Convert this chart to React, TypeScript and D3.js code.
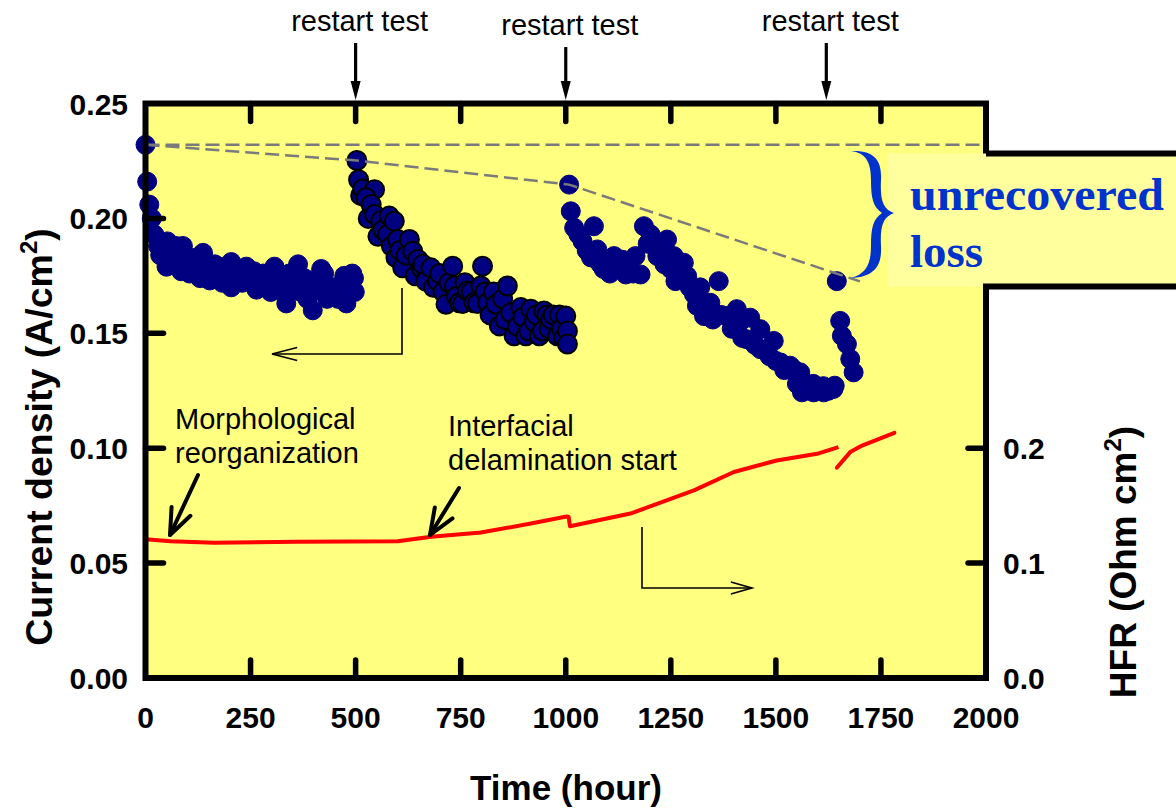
import React from "react";
import * as d3 from "d3";

// Current density (A/cm²) vs. time (hour), one array per operating segment
const segment1: [number, number][] = [
  [0, 0.232], [4, 0.216], [9, 0.206], [15, 0.2], [21, 0.193], [30, 0.188], [35, 0.184], [45, 0.186],
  [52, 0.19], [50, 0.179], [58, 0.185], [65, 0.183], [72, 0.188], [78, 0.181], [85, 0.177], [89, 0.188],
  [98, 0.182], [105, 0.176], [115, 0.178], [120, 0.183], [137, 0.185], [130, 0.174], [145, 0.178],
  [153, 0.173], [158, 0.176], [165, 0.18], [176, 0.179], [183, 0.172], [190, 0.175], [197, 0.178],
  [204, 0.181], [204, 0.17], [212, 0.174], [222, 0.176], [230, 0.172], [240, 0.179], [246, 0.175],
  [252, 0.172], [258, 0.177], [264, 0.169], [272, 0.171], [280, 0.176], [291, 0.173], [298, 0.168],
  [307, 0.179], [312, 0.17], [320, 0.174], [328, 0.168], [335, 0.163], [342, 0.176], [350, 0.172],
  [363, 0.18], [370, 0.168], [378, 0.174], [385, 0.165], [394, 0.173], [398, 0.16], [410, 0.169],
  [418, 0.178], [425, 0.176], [432, 0.165], [440, 0.17], [450, 0.17], [458, 0.165], [465, 0.171],
  [473, 0.175], [478, 0.163], [485, 0.168], [492, 0.176], [496, 0.174], [498, 0.168],
];

const segment2: [number, number][] = [
  [503, 0.2252], [507, 0.2168], [512, 0.21], [517, 0.2128], [545, 0.2125], [525, 0.209], [530, 0.2],
  [537, 0.206], [545, 0.2017], [553, 0.1922], [560, 0.199], [565, 0.195], [576, 0.193], [580, 0.201],
  [585, 0.188], [592, 0.1988], [600, 0.1908], [596, 0.1829], [605, 0.186], [612, 0.1785], [620, 0.184],
  [628, 0.1908], [636, 0.1857], [642, 0.175], [648, 0.1821], [656, 0.1785], [660, 0.18], [667, 0.1727],
  [679, 0.1785], [685, 0.17], [695, 0.1727], [700, 0.176], [708, 0.168], [715, 0.1626], [722, 0.172],
  [731, 0.1792], [735, 0.1706], [740, 0.166], [747, 0.1633], [755, 0.163], [760, 0.172], [766, 0.1684],
  [775, 0.168], [782, 0.1633], [790, 0.163], [798, 0.1706], [802, 0.1792], [808, 0.168], [814, 0.1633],
  [820, 0.158], [828, 0.168], [834, 0.1626], [850, 0.165], [842, 0.1532], [855, 0.156], [861, 0.1706],
  [869, 0.159], [877, 0.1489], [885, 0.153], [893, 0.1612], [898, 0.157], [905, 0.1489], [912, 0.151],
  [917, 0.1605], [925, 0.155], [930, 0.158], [937, 0.1489], [945, 0.151], [948, 0.1597], [955, 0.158],
  [960, 0.152], [964, 0.1561], [970, 0.158], [980, 0.1489], [985, 0.158], [990, 0.152], [995, 0.148],
  [1000, 0.1575], [1004, 0.151], [1004, 0.1453],
];

const segment3: [number, number][] = [
  [1008, 0.2147], [1012, 0.2031], [1020, 0.1959], [1030, 0.193], [1040, 0.19], [1050, 0.186],
  [1060, 0.183], [1067, 0.1966], [1075, 0.1865], [1083, 0.18], [1090, 0.178], [1100, 0.181],
  [1105, 0.176], [1115, 0.1836], [1125, 0.178], [1135, 0.182], [1143, 0.1756], [1150, 0.18],
  [1160, 0.176], [1166, 0.1836], [1178, 0.1756], [1186, 0.1966], [1195, 0.189], [1202, 0.193],
  [1210, 0.188], [1218, 0.1836], [1225, 0.185], [1235, 0.18], [1241, 0.1908], [1250, 0.178],
  [1257, 0.1836], [1261, 0.1727], [1270, 0.175], [1281, 0.1807], [1289, 0.1749], [1295, 0.17],
  [1305, 0.167], [1312, 0.162], [1320, 0.17], [1329, 0.1575], [1335, 0.16], [1344, 0.1633],
  [1350, 0.156], [1364, 0.1727], [1370, 0.158], [1384, 0.1575], [1395, 0.152], [1407, 0.1605],
  [1415, 0.155], [1420, 0.148], [1431, 0.1474], [1439, 0.1568], [1450, 0.145], [1463, 0.1518],
  [1463, 0.1431], [1475, 0.143], [1485, 0.14], [1495, 0.1467], [1500, 0.138], [1511, 0.1373],
  [1520, 0.134], [1534, 0.1359], [1542, 0.1344], [1550, 0.128], [1558, 0.133], [1562, 0.1243],
  [1574, 0.1272], [1580, 0.125], [1589, 0.128], [1590, 0.1243], [1600, 0.125], [1613, 0.127],
  [1614, 0.1243], [1625, 0.125], [1637, 0.1258], [1640, 0.1272],
];

const segment4: [number, number][] = [
  [1645, 0.1727], [1653, 0.1554], [1657, 0.1489], [1669, 0.1453], [1677, 0.1388], [1685, 0.133],
];

// HFR (Ohm cm²) vs. time, two stretches of the measurement
const hfrBefore: [number, number][] = [
  [0, 0.1208], [60, 0.1191], [164, 0.1177], [363, 0.1186], [600, 0.1191], [680, 0.1229],
  [798, 0.1266], [917, 0.1344], [1002, 0.1405], [1007, 0.1402], [1010, 0.1321],
  [1154, 0.1431], [1305, 0.1633], [1400, 0.1793], [1502, 0.1893], [1598, 0.1951], [1649, 0.201],
];
const hfrAfter: [number, number][] = [
  [1645, 0.183], [1677, 0.1966], [1705, 0.2023], [1782, 0.2134],
];

// Peak current after each restart, joined by a dashed trend
const restartPeaks: [number, number][] = [[0, 0.232], [503, 0.2252], [1008, 0.2147], [1700, 0.1726]];
const initialLevel = 0.232;
const restartTimes = [500, 1000, 1620];

const xTicks = [0, 250, 500, 750, 1000, 1250, 1500, 1750, 2000];
const yTicks = [0, 0.05, 0.1, 0.15, 0.2, 0.25];
const hfrTicks = [0, 0.1, 0.2];

const W = 1176;
const H = 810;
const SANS = "'Liberation Sans', Arial, sans-serif";
const SERIF = "'Liberation Serif', 'Times New Roman', serif";
const NAVY = "#000080";
const BLUE = "#0033CC";

const x = d3.scaleLinear().domain([0, 2000]).range([145.5, 986]);
const y = d3.scaleLinear().domain([0, 0.25]).range([678, 103.5]);
const yR = d3.scaleLinear().domain([0, 0.5]).range([678, 103.5]);

const hfrLine = d3.line<[number, number]>().x((d) => x(d[0])).y((d) => yR(d[1]));
const trendLine = d3.line<[number, number]>().x((d) => x(d[0])).y((d) => y(d[1]));

function arrowHead(tx: number, ty: number, fx: number, fy: number, len: number, ang: number) {
  const a = Math.atan2(fy - ty, fx - tx);
  const p1 = [tx + len * Math.cos(a + ang), ty + len * Math.sin(a + ang)];
  const p2 = [tx + len * Math.cos(a - ang), ty + len * Math.sin(a - ang)];
  return `M${p1[0]},${p1[1]} L${tx},${ty} L${p2[0]},${p2[1]}`;
}

export default function App() {
  const left = x(0);
  const right = x(2000);
  const top = y(0.25);
  const bottom = y(0);
  const boxTop = 153.5;
  const boxBottom = 286.5;

  const dots = (data: [number, number][], stroke: string, sw: number, key: string) =>
    data.map((d, i) => (
      <circle key={`${key}${i}`} cx={x(d[0])} cy={y(d[1])} r={9.5} fill={NAVY} stroke={stroke} strokeWidth={sw} />
    ));

  return (
    <svg width={W} height={H} style={{ position: "absolute", left: 0, top: 0, background: "#fff" }}>
      <rect x={left} y={top} width={right - left} height={bottom - top} fill="#FFFF80" />
      <rect x={888} y={boxTop} width={W - 888} height={boxBottom - boxTop} fill="#FFFF9E" />

      {/* HFR trace */}
      <path d={hfrLine(hfrBefore) || ""} fill="none" stroke="#FF0000" strokeWidth={4} strokeLinejoin="round" />
      <path d={hfrLine(hfrAfter) || ""} fill="none" stroke="#FF0000" strokeWidth={4} strokeLinejoin="round" strokeLinecap="round" />

      {/* current density points */}
      {dots(segment1, NAVY, 1, "a")}
      {dots(segment2, "#000", 2, "b")}
      {dots(segment3, NAVY, 1, "c")}
      {dots(segment4, NAVY, 1, "d")}

      {/* dashed reference lines */}
      <line x1={left} x2={right} y1={y(initialLevel)} y2={y(initialLevel)} stroke="#7a7a7a" strokeWidth={2.5} strokeDasharray="14,6" />
      <path d={trendLine(restartPeaks) || ""} fill="none" stroke="#7a7a7a" strokeWidth={2.5} strokeDasharray="14,6" />

      {/* frame, opened on the right around the annotation box */}
      <path
        d={`M${right},${boxTop} L${right},${top} L${left},${top} L${left},${bottom} L${right},${bottom} L${right},${boxBottom} L${W},${boxBottom} M${right},${boxTop} L${W},${boxTop}`}
        fill="none" stroke="#000" strokeWidth={6} strokeLinejoin="miter"
      />

      {/* ticks */}
      {xTicks.slice(1, -1).map((t) => (
        <g key={`xt${t}`} stroke="#000" strokeWidth={5.5} strokeLinecap="round">
          <line x1={x(t)} x2={x(t)} y1={bottom} y2={bottom - 18} />
          <line x1={x(t)} x2={x(t)} y1={top} y2={top + 18} />
        </g>
      ))}
      {yTicks.slice(1, -1).map((v) => (
        <line key={`yt${v}`} x1={left} x2={left + 18} y1={y(v)} y2={y(v)} stroke="#000" strokeWidth={5.5} strokeLinecap="round" />
      ))}
      {hfrTicks.slice(1).map((v) => (
        <line key={`rt${v}`} x1={right} x2={right - 18} y1={yR(v)} y2={yR(v)} stroke="#000" strokeWidth={5.5} strokeLinecap="round" />
      ))}

      {/* tick labels */}
      <g fontFamily={SANS} fontWeight="bold" fontSize={30} fill="#000">
        {xTicks.map((t) => (
          <text key={`xl${t}`} x={x(t)} y={728} textAnchor="middle">{t}</text>
        ))}
        {yTicks.map((v) => (
          <text key={`yl${v}`} x={128} y={y(v) + 11} textAnchor="end">{v.toFixed(2)}</text>
        ))}
        {hfrTicks.map((v) => (
          <text key={`rl${v}`} x={1003} y={yR(v) + 11} textAnchor="start">{v.toFixed(1)}</text>
        ))}
      </g>

      {/* axis titles */}
      <g fontFamily={SANS} fontWeight="bold" fill="#000">
        <text x={566} y={800} textAnchor="middle" fontSize={35}>Time (hour)</text>
        <text transform="translate(52,437) rotate(-90)" textAnchor="middle" fontSize={37.5}>
          Current density (A/cm<tspan fontSize={24} dy={-15}>2</tspan><tspan dy={15}>)</tspan>
        </text>
        <text transform="translate(1136,562) rotate(-90)" textAnchor="middle" fontSize={37}>
          HFR (Ohm cm<tspan fontSize={24} dy={-15}>2</tspan><tspan dy={15}>)</tspan>
        </text>
      </g>

      {/* restart markers */}
      {restartTimes.map((t, i) => {
        const ax = x(t);
        const base = i === 1 ? 35 : 31;
        return (
          <g key={`rs${t}`}>
            <text x={ax + 4} y={base} textAnchor="middle" fontFamily={SANS} fontSize={29}>restart test</text>
            <line x1={ax} x2={ax} y1={base + 12} y2={86} stroke="#000" strokeWidth={3.2} />
            <path d={`M${ax - 5},${81} L${ax + 5},${81} L${ax},${100} Z`} fill="#000" />
          </g>
        );
      })}

      {/* event annotations */}
      <g fontFamily={SANS} fontSize={29} fill="#000">
        <text x={175} y={429}>Morphological</text>
        <text x={175} y={463}>reorganization</text>
        <text x={448} y={436}>Interfacial</text>
        <text x={448} y={470}>delamination start</text>
      </g>
      <g stroke="#000" strokeWidth={4} fill="none" strokeLinecap="round" strokeLinejoin="round">
        <line x1={198} y1={475} x2={170} y2={535} />
        <path d={arrowHead(170, 535, 198, 475, 28, 0.38)} />
        <line x1={459} y1={488} x2={430} y2={535} />
        <path d={arrowHead(430, 535, 459, 488, 28, 0.38)} />
      </g>

      {/* axis pointers */}
      <g stroke="#000" strokeWidth={1.6} fill="none">
        <path d={`M402,288 L402,354 L272,354`} />
        <path d={arrowHead(272, 354, 402, 354, 26, 0.25)} />
        <path d={`M642,527 L642,588 L752,588`} />
        <path d={arrowHead(752, 588, 642, 588, 22, 0.28)} />
      </g>

      {/* unrecovered loss brace and label */}
      <path
        d="M851,151 C876,150 882,162 881,180 C880,200 883,209 894,213 C883,217 880,226 881,246 C882,264 876,277 851,278 C866,274 871,264 871,246 C871,228 873,219 882,213 C873,207 871,198 871,180 C871,162 866,153 851,151 Z"
        fill={BLUE}
      />
      <g fontFamily={SERIF} fontWeight="bold" fontSize={46} fill={BLUE}>
        <text x={910} y={210} textLength={254} lengthAdjust="spacingAndGlyphs">unrecovered</text>
        <text x={910} y={267} textLength={73} lengthAdjust="spacingAndGlyphs">loss</text>
      </g>
    </svg>
  );
}
